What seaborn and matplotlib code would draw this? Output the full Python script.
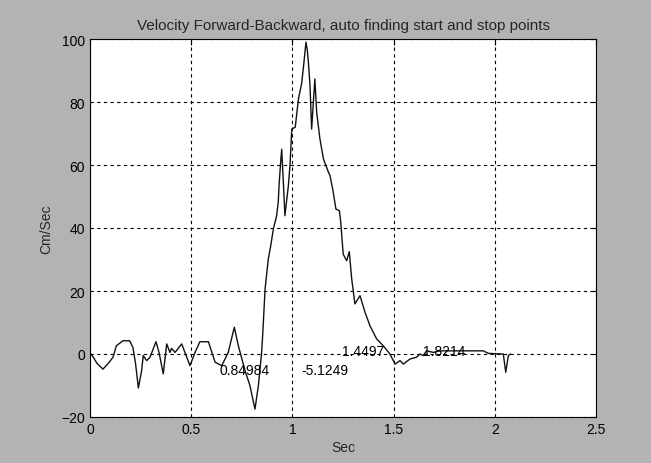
import matplotlib
matplotlib.use("Agg")
import matplotlib.pyplot as plt
import seaborn as sns
import pandas as pd

# --- data ---
time_s = [0.0, 0.006, 0.035, 0.064, 0.09, 0.114, 0.13, 0.163, 0.196, 0.212,
          0.225, 0.239, 0.255, 0.263, 0.28, 0.296, 0.326, 0.341, 0.362, 0.379,
          0.395, 0.403, 0.42, 0.453, 0.469, 0.494, 0.519, 0.543, 0.585, 0.618,
          0.651, 0.683, 0.713, 0.733, 0.766, 0.79, 0.815, 0.832, 0.848, 0.853,
          0.865, 0.881, 0.893, 0.906, 0.922, 0.93, 0.935, 0.942, 0.947, 0.955,
          0.963, 0.98, 0.988, 0.997, 1.014, 1.03, 1.046, 1.057, 1.067, 1.074,
          1.079, 1.087, 1.095, 1.111, 1.12, 1.136, 1.153, 1.178, 1.186, 1.199,
          1.215, 1.232, 1.239, 1.251, 1.268, 1.281, 1.293, 1.309, 1.334, 1.359,
          1.383, 1.416, 1.449, 1.482, 1.507, 1.532, 1.548, 1.581, 1.614, 1.63,
          1.646, 1.663, 1.696, 1.728, 1.779, 1.877, 1.943, 1.968, 2.042, 2.054,
          2.067, 2.078]
velocity = [0, 0, -3, -4.8, -3, -1, 2.6, 4.2, 4.2, 2.1,
            -3, -10.8, -5.3, -0.5, -2.1, -1.1, 3.9, 0.5, -6.3, 3.2,
            0.5, 1.8, 0.5, 3.2, 0.5, -3.7, 0.5, 3.9, 3.9, -2.6,
            -3.7, 0.5, 8.5, 2.6, -5.3, -10, -17.5, -10, 0.5, 5.8,
            20.6, 30.2, 34.4, 39.7, 43.9, 48.2, 54.5, 60.9, 65, 55,
            43.9, 53.4, 59.8, 71.4, 72, 81, 86, 92.6, 99, 96.3,
            92.6, 85.2, 71.4, 87.3, 76.7, 68.3, 62, 57.7, 56.6, 52.4,
            46, 45.5, 41.8, 31.7, 29.6, 32.5, 23.8, 15.9, 18.5, 13.2,
            9, 4.8, 2.6, 0, -3.2, -2.1, -3.2, -1.6, -1, 0,
            -0.5, 1, 0.5, 1, 1, 1, 1, 0.2, 0, -5.8,
            -0.5, 0]

label_texts = ["0.84984", "-5.1249", "1.4497", "1.8214"]
label_x = [0.642, 1.042, 1.243, 1.644]
label_y = [-5, -5, 1, 1]

x_ticks = [0, 0.5, 1, 1.5, 2, 2.5]
x_tick_labels = ["0", "0.5", "1", "1.5", "2", "2.5"]
y_ticks = [-20, 0, 20, 40, 60, 80, 100]

df = pd.DataFrame({"Sec": time_s, "Cm/Sec": velocity})

sns.set_style("white")
plt.rcParams["font.family"] = ["Liberation Sans", "DejaVu Sans"]

bg = "#b3b3b3"
fig = plt.figure(figsize=(6.51, 4.64), dpi=100, facecolor=bg)
ax = fig.add_axes([90 / 651, 1 - 418 / 464, 506 / 651, 378 / 464])
ax.set_facecolor("white")

sns.lineplot(data=df, x="Sec", y="Cm/Sec", ax=ax, color="#111111",
             linewidth=1.0, estimator=None, sort=False)

for t, xx, yy in zip(label_texts, label_x, label_y):
    ax.text(xx, yy, t, fontsize=10, ha="left", va="center", color="black")

ax.set_xlim(0, 2.5)
ax.set_ylim(-20, 100)
ax.set_xticks(x_ticks)
ax.set_xticklabels(x_tick_labels)
ax.set_yticks(y_ticks)
ax.grid(True, color="black", linestyle=(0, (3, 3)), linewidth=0.8)
ax.tick_params(direction="in", length=4, labelsize=10, top=True, right=True,
               colors="black")
for s in ax.spines.values():
    s.set_color("black")
    s.set_linewidth(0.8)

ax.set_title("Velocity Forward-Backward, auto finding start and stop points",
             fontsize=11, pad=7)
ax.set_xlabel("Sec", fontsize=10, labelpad=3)
ax.set_ylabel("Cm/Sec", fontsize=10, labelpad=6)

fig.savefig("out.png", dpi=100, facecolor=bg)
